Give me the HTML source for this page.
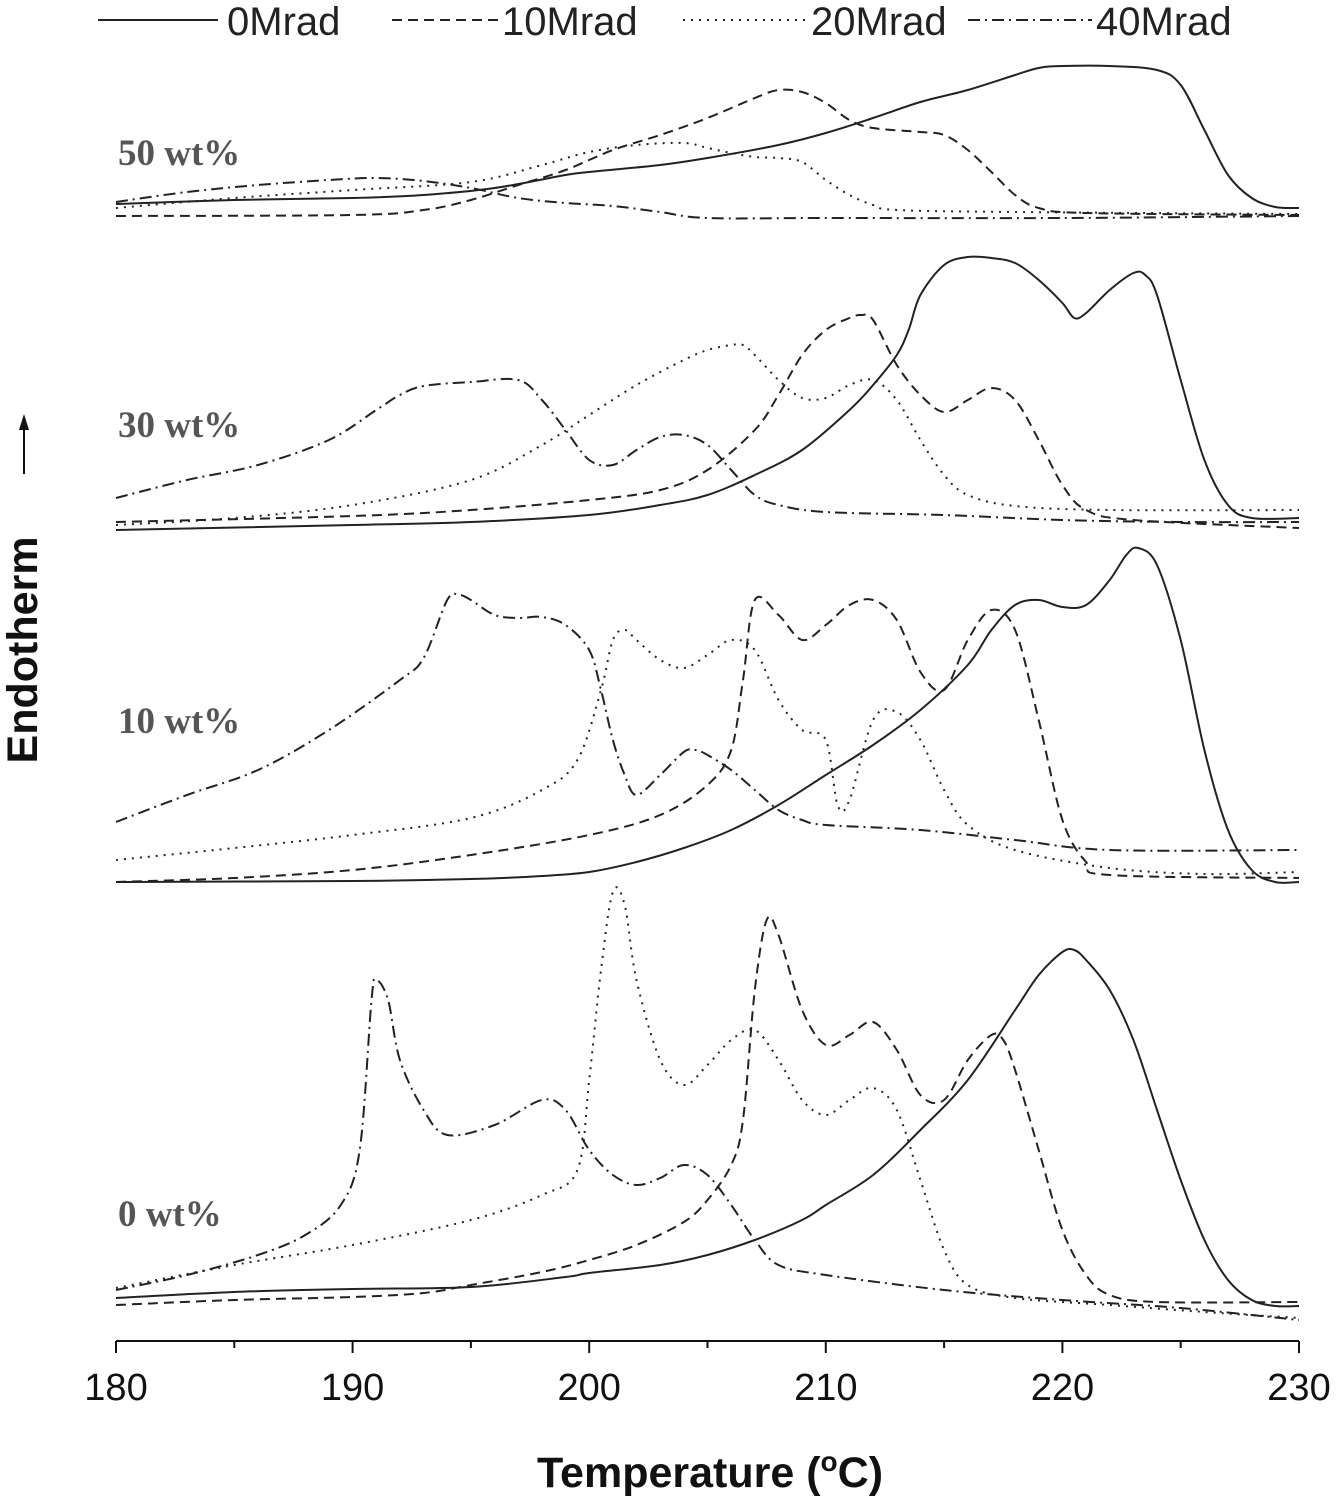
<!DOCTYPE html>
<html><head><meta charset="utf-8">
<style>
html,body{margin:0;padding:0;background:#fff;}
svg{display:block;font-family:"Liberation Sans",sans-serif;}
</style></head>
<body>
<svg id="chart" width="1339" height="1506" viewBox="0 0 1339 1506" xmlns="http://www.w3.org/2000/svg">
  <g id="legend">
    <line x1="98" y1="20" x2="218" y2="20" stroke="#222" stroke-width="2"/>
    <text x="227" y="35" font-size="40" fill="#222">0Mrad</text>
    <line x1="392" y1="20" x2="500" y2="20" stroke="#222" stroke-width="2" stroke-dasharray="10,6"/>
    <text x="502" y="35" font-size="40" fill="#222">10Mrad</text>
    <line x1="683" y1="20" x2="806" y2="20" stroke="#222" stroke-width="2" stroke-dasharray="2,6"/>
    <text x="811" y="35" font-size="40" fill="#222">20Mrad</text>
    <line x1="968" y1="20" x2="1092" y2="20" stroke="#222" stroke-width="2" stroke-dasharray="12,5,2,5"/>
    <text x="1096" y="35" font-size="40" fill="#222">40Mrad</text>
  </g>
  <g font-family="'Liberation Serif',serif" font-weight="bold" font-size="37" fill="#555">
    <text x="118" y="165">50 wt%</text>
    <text x="118" y="437">30 wt%</text>
    <text x="118" y="733">10 wt%</text>
    <text x="118" y="1226">0 wt%</text>
  </g>
  <text transform="translate(37,650) rotate(-90)" text-anchor="middle" font-size="43" font-weight="bold" fill="#111">Endotherm</text>
  <g>
    <line x1="24" y1="474" x2="24" y2="425" stroke="#111" stroke-width="2"/>
    <path d="M19,430 L24,414 L29,430 Z" fill="#111"/>
  </g>
  <g id="xaxis"></g>
  <text x="710" y="1487" text-anchor="middle" font-size="43" font-weight="bold" fill="#111">Temperature (<tspan font-size="28" dy="-16">o</tspan><tspan dy="16">C)</tspan></text>
  <g id="curves"></g>
</svg>
<script>
// x-axis
const xTicks = [180,190,200,210,220,230];
const xMinor = [185,195,205,215,225];
const panels = ["0wt","10wt","30wt","50wt"];
const panelOffsets = [0, 42.8, 78, 109.2];
const seriesNames = ["0Mrad","10Mrad","20Mrad","40Mrad"];
// data: [temperature °C, heat flow (a.u.)] per panel per dose
const p0_0 = [[180,1.2],[185,1.8],[190,2.1],[195,2.3],[199,3.3],[200,3.7],[203,4.5],[205,5.5],[207,7],[209,9],[210,10.5],[212,13.5],[214,18],[216,23],[218,30],[219,33.5],[220,35.8],[220.5,36],[221,35],[222,32],[223,27],[224,20],[225,13],[226,7],[227,3],[228,1],[229,0.4],[230,0.4]];
const p0_10 = [[180,0.5],[185,1],[190,1.3],[193,1.7],[195,2.5],[198,3.8],[200,5],[202,6.5],[204,8.8],[205,11],[206,14.5],[206.5,19],[207,32],[207.5,39],[208,37.5],[209,30],[210,26.5],[211,27.5],[212,28.8],[213,26],[214,21.5],[215,21],[216,25],[217,27.5],[217.5,27],[218,24],[219,16],[220,8],[221,3.5],[222,1.5],[224,0.8],[230,0.8]];
const p0_20 = [[180,2.2],[185,4.5],[190,6.5],[195,9],[198,11.5],[199.5,14],[200,23],[200.5,34],[201,41.8],[201.5,40.5],[202,33],[203,25],[204,22.5],[205,24.5],[206,27],[207,28],[208,25],[209,21],[210,19.5],[211,21],[212,22.2],[213,20],[214,13],[215,6],[216,2.5],[218,1.2],[222,0.5],[226,-0.2],[230,-0.8]];
const p0_40 = [[180,2],[183,3.5],[186,5.5],[188,7.5],[189.5,10.5],[190.3,16],[190.8,31],[191,33],[191.5,31],[192,25],[193,20],[194,17.5],[196,18.5],[198,21],[199,20],[200,16],[201,13.5],[202,12.5],[203,13.2],[204,14.5],[205,13.5],[206,10.5],[207,7],[208,4.5],[210,3.5],[215,2],[220,1],[225,0.2],[230,-1]];
const p10_0 = [[180,0],[190,0.1],[195,0.3],[198,0.6],[200,1],[202,2],[204,3.4],[206,5.2],[208,7.7],[210,10.7],[212,13.7],[214,17.2],[216,21.7],[217,25.2],[218,27.7],[219,28.2],[220,27.5],[221,27.7],[222,30.2],[222.7,32.7],[223.2,33.4],[224,31.7],[225,24.2],[226,13.2],[227,5.2],[228,1.2],[229,0],[230,0]];
const p10_10 = [[180,0],[185,0.4],[190,1.2],[195,2.7],[200,4.7],[203,6.7],[205,9.7],[206,13.2],[206.5,20.2],[207,28.2],[208,26.7],[209,24.2],[210,25.7],[211,27.7],[212,28.2],[213,26.2],[214,21],[215,19.2],[216,24.2],[217,27.2],[218,25.2],[219,16.2],[220,6.2],[221,2],[222,0.7],[230,0.4]];
const p10_20 = [[180,2.2],[185,3.4],[190,4.7],[195,6.4],[198,9.2],[199.5,12.2],[200.5,19.2],[201,24.2],[201.5,25.2],[202,24.2],[203,22.2],[204,21.4],[205,22.7],[206,24.2],[207,23.2],[208,18.2],[209,15.2],[210,14.2],[210.5,7.7],[211,8.2],[212,16.2],[213,17],[214,14.2],[215,9.2],[216,5.7],[218,3.2],[222,1.4],[226,0.8],[230,1]];
const p10_40 = [[180,6],[183,8.7],[186,11.2],[189,15.2],[192,20.2],[193,22.4],[194,28.2],[194.5,28.7],[195,28.2],[196,26.7],[197,26.4],[198,26.5],[199,25.7],[200,23.2],[200.5,19.2],[201,14.2],[201.5,10.7],[202,8.7],[203,10.7],[204,13],[204.5,13.2],[205,12.7],[206,11.2],[207,9.2],[208,7.2],[209,6.2],[210,5.7],[214,5.2],[218,4.2],[222,3.2],[230,3.2]];
const p30_0 = [[180,0],[190,0.5],[195,0.8],[200,1.5],[203,2.5],[205,3.5],[207,5.5],[209,8],[211,12],[212,14.5],[213,17.5],[213.5,20],[214,23.5],[215,26.5],[216,27.3],[217,27.2],[218,26.7],[219,25],[220,22.7],[220.5,21.2],[221,21.7],[222,24],[223,25.7],[223.5,25.5],[224,23.5],[225,15],[226,7],[227,2.5],[228,1.2],[230,1.2]];
const p30_10 = [[180,0.8],[190,1.4],[195,2],[200,3],[203,4],[205,6],[207,10],[208,13.5],[209,17.5],[210,20],[211,21.2],[211.5,21.5],[212,21],[213,16.5],[214,13.5],[215,11.8],[216,13],[217,14.2],[218,13],[219,9],[220,4.5],[221,2],[223,1],[230,0.2]];
const p30_20 = [[180,0.5],[185,1.2],[190,2.5],[195,5],[198,8.5],[200,11.5],[202,14.5],[204,17],[205,18],[206,18.5],[206.5,18.5],[207,17.5],[208,15],[209,13.2],[210,13.2],[211,14.5],[212,15],[213,13],[214,9],[215,5.5],[216,3.5],[218,2.4],[222,2],[230,2]];
const p30_40 = [[180,3.2],[183,5],[186,6.5],[189,9],[191,12],[192,13.5],[193,14.4],[195,14.8],[197,15],[198,13],[199,10],[200,7],[201,6.5],[202,8],[203,9.3],[204,9.5],[205,8.5],[206,6],[207,3.5],[208,2.5],[210,1.8],[215,1.5],[220,1],[225,0.8],[230,0.8]];
const p50_0 = [[180,1.4],[185,1.8],[190,2],[193,2.3],[196,3],[199,4.3],[200,4.6],[203,5.3],[205,6],[208,7.3],[210,8.5],[212,10],[214,11.6],[216,12.8],[218,14.3],[219,15],[220,15.2],[222,15.2],[224,14.8],[225,13.3],[226,8.8],[227,4.3],[228,2],[229,1.1],[230,1]];
const p50_10 = [[180,0.2],[190,0.3],[193,0.8],[195,1.8],[197,3.3],[199,4.8],[201,6.8],[203,8.3],[205,10],[207,12],[208,12.8],[209,12.6],[210,11.5],[211,9.8],[212,9],[214,8.6],[215,8.3],[216,6.8],[217,4.6],[218,2.3],[219,1],[221,0.5],[230,0.3]];
const p50_20 = [[180,1],[185,2],[190,2.8],[195,3.6],[198,5.3],[200,6.6],[202,7.3],[204,7.5],[205,7],[206,6.5],[207,6.1],[208,6],[209,5.6],[210,3.8],[211,2.3],[212,1.3],[213,0.8],[218,0.6],[230,0.4]];
const p50_40 = [[180,1.6],[183,2.6],[186,3.3],[189,3.8],[191,4],[193,3.7],[195,3],[197,2],[199,1.5],[201,1.2],[203,0.6],[205,0],[210,0],[220,0],[230,0.2]];

const curveSets = [[p0_0,p0_10,p0_20,p0_40],[p10_0,p10_10,p10_20,p10_40],[p30_0,p30_10,p30_20,p30_40],[p50_0,p50_10,p50_20,p50_40]];
const dashes = ["none","10,6","2,6","12,5,2,5"];

const NS = "http://www.w3.org/2000/svg";
const X0=116, X1=1299, AXY=1341, BASE=1310, UNIT=10;
const xs = t => X0 + (t-180)/(230-180)*(X1-X0);
const ys = v => BASE - v*UNIT;

const ax = document.getElementById('xaxis');
function mk(tag, attrs, parent){const e=document.createElementNS(NS,tag);for(const k in attrs)e.setAttribute(k,attrs[k]);parent.appendChild(e);return e;}
const axl = mk('line',{x1:X0,y1:AXY,x2:X1,y2:AXY,stroke:'#111','stroke-width':2},ax);


xTicks.forEach(t=>{
  const l=mk('line',{x1:xs(t),y1:AXY,x2:xs(t),y2:AXY+12,stroke:'#111','stroke-width':2},ax);
  
  
  const tx=mk('text',{x:xs(t),y:AXY+59,'text-anchor':'middle','font-size':38,fill:'#111'},ax);
  tx.textContent=t;
  
  
});
xMinor.forEach(t=>{
  const l=mk('line',{x1:xs(t),y1:AXY,x2:xs(t),y2:AXY+7,stroke:'#111','stroke-width':2},ax);
  
  
});

function pathFor(pts){
  const P=pts.map(p=>[p[0],p[1]]);
  let d='M'+P[0][0].toFixed(1)+','+P[0][1].toFixed(1);
  for(let i=0;i<P.length-1;i++){
    const p0=P[Math.max(0,i-1)],p1=P[i],p2=P[i+1],p3=P[Math.min(P.length-1,i+2)];
    const c1=[p1[0]+(p2[0]-p0[0])/6,p1[1]+(p2[1]-p0[1])/6];
    const c2=[p2[0]-(p3[0]-p1[0])/6,p2[1]-(p3[1]-p1[1])/6];
    d+=' C'+c1[0].toFixed(1)+','+c1[1].toFixed(1)+' '+c2[0].toFixed(1)+','+c2[1].toFixed(1)+' '+p2[0].toFixed(1)+','+p2[1].toFixed(1);
  }
  return d;
}
const cg=document.getElementById('curves');
curveSets.forEach((set,pi)=>{
  set.forEach((data,si)=>{
    const pts=data.map(d=>[xs(d[0]),ys(d[1]+panelOffsets[pi])]);
    const p=mk('path',{d:pathFor(pts),fill:'none',stroke:'#222','stroke-width':2,'stroke-dasharray':dashes[si]},cg);
    
    
  });
});
</script>
</body></html>
